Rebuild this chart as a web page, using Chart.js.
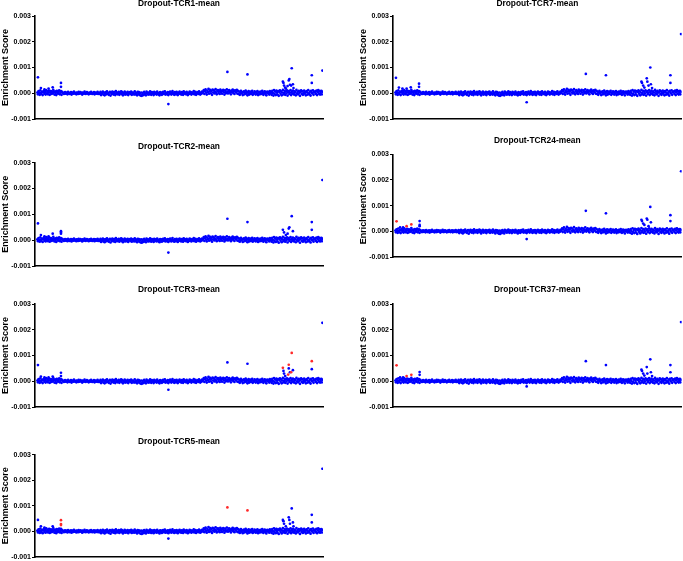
<!DOCTYPE html>
<html>
<head>
<meta charset="utf-8">
<script src="https://cdn.jsdelivr.net/npm/chart.js@4"></script>
<style>
html, body { margin: 0; padding: 0; background: #fff; overflow: hidden; }
#wrap { position: relative; width: 683px; height: 561px; }
#wrap canvas { position: absolute; }
</style>
</head>
<body>
<div id="wrap"></div>
<script>
// shared background band (gene index order), values in units of 1e-5
const UNIT = 1e-5;
const baseline = [
    3,-4,8,1,-6,11,2,-3,6,-7,4,9,-2,5,-5,12,0,7,-4,3,10,-6,2,8,-3,5,-1,13,4,-5,7,1,-7,9,3,-2,6,11,-4,2,8,-6,5,1,
    2,-3,1,4,-2,0,3,-4,5,-1,2,-3,0,4,-5,1,3,-2,6,-1,0,2,-4,3,1,-3,5,-2,0,4,-1,2,-5,3,0,-2,6,1,-3,2,4,-1,0,-4,3,1,
    -2,5,0,-3,2,-1,4,-4,1,3,-2,0,5,-3,2,-1,
    -3,5,-7,2,-1,6,-5,3,-8,1,4,-4,7,-2,0,-6,3,5,-9,2,-3,6,-1,-5,4,1,-7,8,-2,3,-4,0,5,-6,2,-1,7,-3,4,-8,1,-2,6,-5,
    3,0,-4,5,-7,2,-1,4,-3,6,-6,1,3,-2,-5,7,0,-4,2,-8,5,
    -2,4,-6,1,-9,3,-10,-4,2,-7,5,-3,0,-8,6,-1,3,-5,2,-4,7,0,-6,4,-2,1,-7,5,-3,3,-1,-5,6,2,-4,0,-8,4,-2,3,
    -6,1,5,-3,-1,7,-5,2,0,-4,4,-7,3,-2,6,-1,-5,2,8,-3,0,-6,4,1,-4,5,-2,-7,3,0,
    6,-3,2,-5,4,-1,-6,7,1,-2,3,-4,5,0,-7,2,-3,6,-1,4,-5,1,3,-2,8,-4,0,5,-6,2,
    -1,4,-3,7,0,-5,3,-2,6,1,
    5,12,-3,8,15,2,-5,10,4,17,-2,7,13,0,9,-6,14,3,11,-1,6,16,2,-4,9,12,1,7,-3,14,5,10,-2,8,13,3,-5,11,6,0,
    15,4,-1,9,12,2,7,-4,10,5,14,1,8,-3,11,6,3,13,-2,9,
    -3,6,-6,2,9,-1,4,-7,3,7,-4,1,10,-2,5,-8,2,8,-5,0,6,-3,4,9,-6,1,-2,7,3,-5,5,-1,8,-7,2,4,-4,6,0,-3,9,1,-6,3,7,
    -2,5,-8,2,6,-1,4,-5,8,0,
    4,-6,9,1,-9,12,-3,6,-7,10,2,-5,8,-10,5,11,-2,7,-8,3,13,-4,1,9,-6,6,-1,11,-9,4,8,-3,2,12,-7,5,-2,10,0,-5,
    7,3,-8,13,-1,6,-4,9,2,-10,5,11,-3,7,-6,1,10,-2,4,-8,8,3,-5,12,0,-4,6,-9,9,2,-1,11,-6,5,3,
    7,-3,10,-7,4,12,-2,8,-5,2,9,-4,6
];

// outliers per screen: [gene index, enrichment score]
const tcr1Blue = [[1,0.00062],[6,0.0002],[12,0.00015],[19,0.00018],[26,0.00023],[40,0.0004],[40,0.00025],
    [222,-0.00042],[322,0.00083],[356,0.00073],[416,0.00045],[417,0.0004],[418,0.0003],[420,0.00022],[421,0.00018],
    [424,0.00028],[426,0.0005],[427,0.00055],[428,0.00033],[430,0.0003],[431,0.00097],[433,0.00035],[434,0.0002],
    [465,0.0007],[465,0.0004],[483,0.00088]];
const tcr1Red = [];

const tcr2Blue = [[1,0.00065],[6,0.0002],[12,0.00015],[19,0.00015],[26,0.00025],[40,0.00035],[40,0.0003],[40,0.00025],
    [222,-0.00048],[322,0.00083],[356,0.0007],[416,0.0004],[418,0.0003],[421,0.0002],[424,0.00025],[426,0.00045],
    [427,0.0005],[431,0.00093],[433,0.00035],[465,0.0007],[465,0.0004],[483,0.00233]];
const tcr2Red = [];

const tcr3Blue = [[1,0.00063],[6,0.00018],[12,0.00015],[19,0.00015],[26,0.00018],[40,0.00033],[40,0.0002],
    [222,-0.00033],[322,0.00073],[356,0.00068],[417,0.0004],[418,0.0003],[420,0.0002],[426,0.0005],[428,0.00035],
    [433,0.00043],[465,0.00047],[483,0.00227]];
const tcr3Red = [[416,0.00052],[425,0.00026],[426,0.00064],[430,0.00035],[431,0.0011],[465,0.00078]];

const tcr5Blue = [[1,0.00045],[6,0.0002],[12,0.00015],[26,0.0002],[40,0.0001],[222,-0.00028],[416,0.00045],
    [417,0.0004],[418,0.0003],[421,0.0002],[426,0.00055],[427,0.00045],[428,0.0003],[431,0.0009],[433,0.00035],
    [434,0.0002],[465,0.00065],[465,0.00035],[483,0.00245]];
const tcr5Red = [[40,0.00044],[40,0.00029],[40,0.00025],[322,0.00094],[356,0.00082]];

const tcr7Blue = [[1,0.0006],[6,0.00022],[12,0.00018],[19,0.00018],[26,0.00023],[40,0.00037],[40,0.00025],
    [222,-0.00035],[322,0.00075],[356,0.0007],[416,0.00045],[417,0.0004],[419,0.0003],[421,0.00022],[425,0.00058],
    [426,0.00045],[428,0.0003],[431,0.001],[432,0.00035],[434,0.0002],[465,0.0007],[465,0.0004],[483,0.0023]];
const tcr7Red = [];

const tcr24Blue = [[8,0.00015],[13,0.00015],[41,0.0004],[41,0.00025],[41,0.0002],[222,-0.0003],[322,0.0008],
    [356,0.0007],[416,0.00045],[417,0.0004],[419,0.0003],[421,0.00025],[425,0.0005],[426,0.00045],[428,0.0002],
    [431,0.00095],[432,0.00035],[465,0.00063],[465,0.0004],[483,0.00234]];
const tcr24Red = [[2,0.00039],[19,0.0002],[27,0.00027]];

const tcr37Blue = [[8,0.00015],[13,0.00015],[41,0.00036],[41,0.00025],[222,-0.0002],[322,0.00078],[356,0.00063],
    [416,0.00045],[417,0.0004],[419,0.0003],[421,0.00022],[425,0.00055],[426,0.0003],[431,0.00085],[432,0.00035],
    [434,0.0002],[465,0.00063],[465,0.00035],[483,0.0023]];
const tcr37Red = [[2,0.00062],[19,0.0002],[27,0.00025]];

const yTicks = [-0.001, 0, 0.001, 0.002, 0.003];

// layout: title centre y, plot top y, plot bottom y, canvas left
const panels = [
    { title: 'Dropout-TCR1-mean', blue: tcr1Blue, red: tcr1Red, left: 0, tc: 4.5, top: 16, bottom: 119.3 },
    { title: 'Dropout-TCR2-mean', blue: tcr2Blue, red: tcr2Red, left: 0, tc: 147.3, top: 162.7, bottom: 266 },
    { title: 'Dropout-TCR3-mean', blue: tcr3Blue, red: tcr3Red, left: 0, tc: 290, top: 304, bottom: 406.7 },
    { title: 'Dropout-TCR5-mean', blue: tcr5Blue, red: tcr5Red, left: 0, tc: 441.7, top: 454.7, bottom: 557.3 },
    { title: 'Dropout-TCR7-mean', blue: tcr7Blue, red: tcr7Red, left: 358, tc: 4.5, top: 16, bottom: 119 },
    { title: 'Dropout-TCR24-mean', blue: tcr24Blue, red: tcr24Red, left: 358, tc: 141, top: 154.3, bottom: 257.3 },
    { title: 'Dropout-TCR37-mean', blue: tcr37Blue, red: tcr37Red, left: 358, tc: 290, top: 304, bottom: 407 }
];

const FONT = "'Liberation Sans', Arial, Helvetica, sans-serif";
const TITLE_SIZE = 8.4;
const TITLE_H = TITLE_SIZE * 1.2;
const X_AXIS_H = 6;

const wrap = document.getElementById('wrap');

panels.forEach(p => {
    const canvas = document.createElement('canvas');
    const cTop = Math.round(p.tc - TITLE_H / 2);
    const height = Math.round(p.bottom + X_AXIS_H - cTop);
    const width = p.left === 0 ? 326 : 325;
    canvas.width = width;
    canvas.height = height;
    canvas.style.left = p.left + 'px';
    canvas.style.top = cTop + 'px';
    wrap.appendChild(canvas);

    const bandPoints = baseline.map((v, i) => ({ x: i, y: v * UNIT }));
    const bluePoints = bandPoints.concat(p.blue.map(d => ({ x: d[0], y: d[1] })));
    const redPoints = p.red.map(d => ({ x: d[0], y: d[1] }));

    new Chart(canvas.getContext('2d'), {
        type: 'scatter',
        data: {
            datasets: [
                { data: redPoints, backgroundColor: '#ff2a2a', borderWidth: 0, pointRadius: 1.35, pointHoverRadius: 1.35 },
                { data: bluePoints, backgroundColor: '#0000ff', borderWidth: 0, pointRadius: 1.35, pointHoverRadius: 1.35 }
            ]
        },
        options: {
            responsive: false,
            animation: false,
            events: [],
            layout: { padding: { left: 0, right: p.left === 0 ? 3 : 1, top: 0, bottom: 0 } },
            plugins: {
                legend: { display: false },
                tooltip: { enabled: false },
                title: {
                    display: true,
                    text: p.title,
                    fullSize: false,
                    color: '#000',
                    font: { family: FONT, size: TITLE_SIZE, weight: 'bold' },
                    padding: { top: 0, bottom: p.top - cTop - TITLE_H }
                }
            },
            scales: {
                x: {
                    type: 'linear',
                    min: -4,
                    max: 484,
                    ticks: { display: false },
                    grid: { display: false },
                    border: { display: true, color: '#000', width: 1.6 },
                    afterFit: s => { s.height = X_AXIS_H; }
                },
                y: {
                    min: yTicks[0],
                    max: yTicks[yTicks.length - 1],
                    afterBuildTicks: s => { s.ticks = yTicks.map(v => ({ value: v })); },
                    ticks: {
                        color: '#000',
                        padding: 1,
                        font: { family: FONT, size: 7, weight: 'bold' },
                        callback: v => (Math.abs(v) < 1e-9 ? '0.000' : v.toFixed(3))
                    },
                    grid: { drawOnChartArea: false, color: '#000', tickLength: 3, lineWidth: 1 },
                    border: { color: '#000', width: 1.6 },
                    title: {
                        display: true,
                        text: 'Enrichment Score',
                        color: '#000',
                        padding: 0,
                        font: { family: FONT, size: 9, weight: 'bold' }
                    },
                    afterFit: s => { s.width = 35; }
                }
            }
        }
    });
});
</script>
</body>
</html>
